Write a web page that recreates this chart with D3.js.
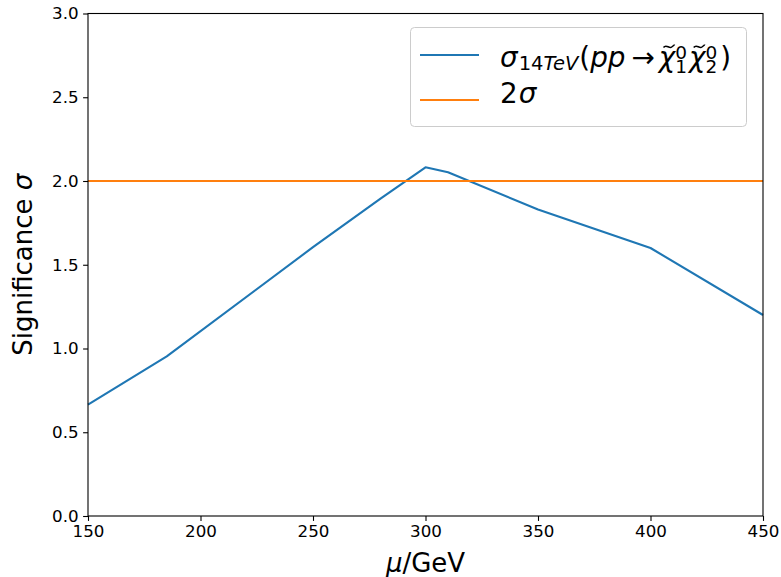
<!DOCTYPE html>
<html>
<head>
<meta charset="utf-8">
<script src="https://cdn.jsdelivr.net/npm/d3@7"></script>
<style>
  body { margin: 0; background: #fff; }
  svg { display: block; font-family: "DejaVu Sans", sans-serif; }
</style>
</head>
<body>
<div id="chart"></div>
<script>
// data
const mu = [150, 185, 250, 280, 300, 310, 350, 400, 450];
const significance = [0.665, 0.953, 1.605, 1.895, 2.082, 2.052, 1.83, 1.6, 1.2];
const threshold = 2.0;
const xTicks = [150, 200, 250, 300, 350, 400, 450];
const yTicks = [0, 0.5, 1.0, 1.5, 2.0, 2.5, 3.0];

const width = 781, height = 577;
const margin = ({top: 13.5, right: 18, bottom: 61, left: 88});
const blue = "#1f77b4", orange = "#ff7f0e";

const svg = d3.select("#chart").append("svg")
    .attr("width", width)
    .attr("height", height);

const x = d3.scaleLinear().domain([150, 450]).range([margin.left, width - margin.right]);
const y = d3.scaleLinear().domain([0, 3]).range([height - margin.bottom, margin.top]);

// lines
const line = d3.line().x(d => x(d[0])).y(d => y(d[1]));
const pts = mu.map((m, i) => [m, significance[i]]);

svg.append("path")
    .attr("d", line(pts))
    .attr("fill", "none")
    .attr("stroke", blue)
    .attr("stroke-width", 2.1)
    .attr("stroke-linejoin", "round");

svg.append("path")
    .attr("d", line([[150, threshold], [450, threshold]]))
    .attr("fill", "none")
    .attr("stroke", orange)
    .attr("stroke-width", 2.1);

// axes
const xAxis = svg.append("g")
    .attr("transform", `translate(0,${y(0)})`)
    .call(d3.axisBottom(x).tickValues(xTicks).tickSize(4.9).tickPadding(4.5).tickFormat(d3.format("d")));
const yAxis = svg.append("g")
    .attr("transform", `translate(${x(150)},0)`)
    .call(d3.axisLeft(y).tickValues(yTicks).tickSize(4.9).tickPadding(4.5).tickFormat(d3.format(".1f")));

[xAxis, yAxis].forEach(g => {
  g.select(".domain").remove();
  g.selectAll(".tick line").attr("stroke", "#000").attr("stroke-width", 1.1);
  g.selectAll(".tick text").attr("font-size", 16.7).attr("fill", "#000")
      .attr("font-family", "DejaVu Sans");
});

// frame
svg.append("rect")
    .attr("x", x(150)).attr("y", y(3))
    .attr("width", x(450) - x(150)).attr("height", y(0) - y(3))
    .attr("fill", "none").attr("stroke", "#000").attr("stroke-width", 1.1);

// axis labels
const xl = svg.append("text")
    .attr("x", (x(150) + x(450)) / 2).attr("y", 572)
    .attr("text-anchor", "middle").attr("font-size", 26);
xl.append("tspan").attr("font-style", "italic").text("μ");
xl.append("tspan").text("/GeV");

const yl = svg.append("text")
    .attr("transform", `translate(32,${(y(0) + y(3)) / 2}) rotate(-90)`)
    .attr("text-anchor", "middle").attr("font-size", 26);
yl.append("tspan").text("Significance ");
yl.append("tspan").attr("font-style", "italic").text("σ");

// legend
const lg = svg.append("g");
lg.append("rect")
    .attr("x", 410.5).attr("y", 27.5).attr("width", 336).attr("height", 99)
    .attr("rx", 4).attr("fill", "#fff").attr("fill-opacity", 0.8)
    .attr("stroke", "#cccccc");

lg.append("line").attr("x1", 420).attr("x2", 479).attr("y1", 55).attr("y2", 55)
    .attr("stroke", blue).attr("stroke-width", 2.1);
lg.append("line").attr("x1", 420).attr("x2", 479).attr("y1", 100).attr("y2", 100)
    .attr("stroke", orange).attr("stroke-width", 2.1);

// small mathtext-ish layout: pieces placed one after another
function mathText(g, x0, base, pieces) {
  let cx = x0;
  pieces.forEach(p => {
    cx += p.pre || 0;
    if (p.stack) {
      let w = 0;
      p.stack.forEach(s => {
        const t = g.append("text").attr("x", cx).attr("y", base + s.dy)
            .attr("font-size", s.size).text(s.t);
        w = Math.max(w, t.node().getComputedTextLength());
      });
      cx += w + (p.gap || 0);
      return;
    }
    const t = g.append("text").attr("x", cx).attr("y", base + (p.dy || 0))
        .attr("font-size", p.size)
        .attr("font-style", p.italic ? "italic" : null)
        .text(p.t);
    const w = t.node().getComputedTextLength();
    if (p.tilde) {
      // tilde accent drawn as a little wave
      const c = cx + w / 2 + 2, ty = base - 20.5, hw = 5.5;
      g.append("path")
          .attr("d", `M${c - hw},${ty + 1.5} C${c - hw / 2},${ty - 2.5} ${c},${ty + 3} ${c + hw / 2},${ty + 1} S${c + hw},${ty - 1} ${c + hw},${ty - 1.5}`)
          .attr("fill", "none").attr("stroke", "#000").attr("stroke-width", 1.5);
    }
    cx += w + (p.gap || 0);
  });
}

const fs = 27.8, sub = 18.5;
mathText(lg, 500, 66.5, [
  {t: "σ", size: fs, italic: true, gap: 1},
  {t: "14", size: sub + 1, dy: 3},
  {t: "TeV", size: sub + 1, dy: 3, italic: true},
  {t: "(", size: fs, pre: 1},
  {t: "pp", size: fs, italic: true},
  {t: "→", size: fs, pre: 6, gap: 4},
  {t: "χ", size: fs, italic: true, tilde: true},
  {stack: [{t: "0", size: sub, dy: -8}, {t: "1", size: sub, dy: 6.6}], gap: 2},
  {t: "χ", size: fs, italic: true, tilde: true},
  {stack: [{t: "0", size: sub, dy: -8}, {t: "2", size: sub, dy: 6.6}], gap: 3},
  {t: ")", size: fs}
]);
mathText(lg, 500, 103, [
  {t: "2", size: fs, gap: 1},
  {t: "σ", size: fs, italic: true}
]);
</script>
</body>
</html>
